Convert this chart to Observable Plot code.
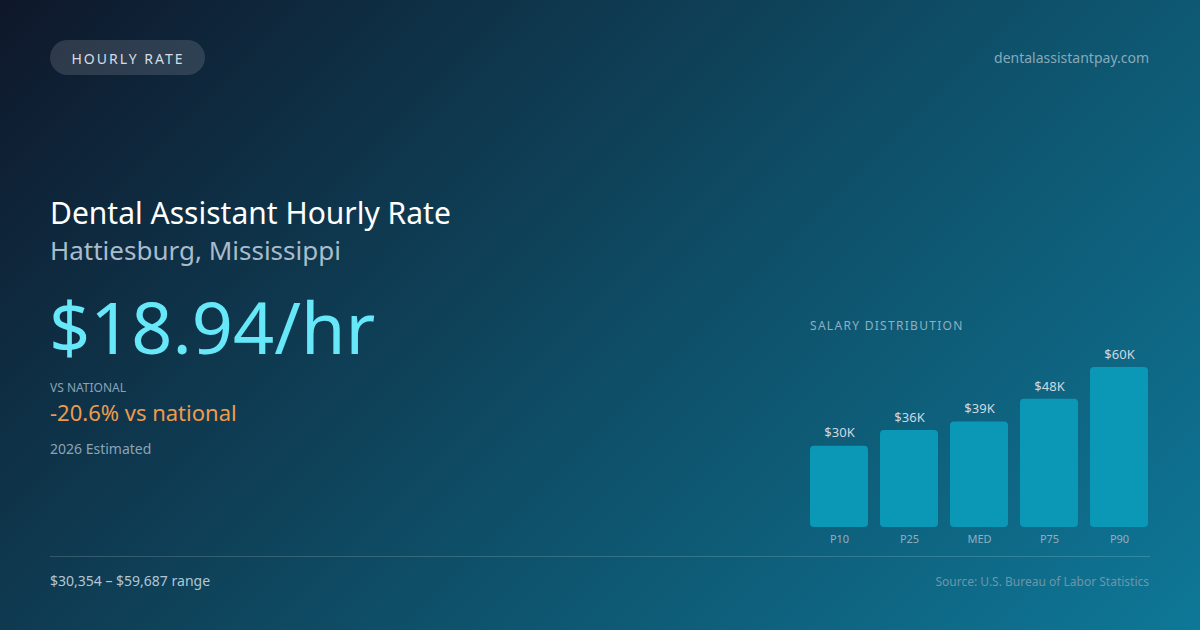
<!DOCTYPE html>
<html>
<head>
<meta charset="utf-8">
<script src="https://cdn.jsdelivr.net/npm/d3@7"></script>
<script src="https://cdn.jsdelivr.net/npm/@observablehq/plot@0.6"></script>
<style>
  html, body { margin: 0; padding: 0; }
  body {
    width: 1200px; height: 630px; overflow: hidden; position: relative;
    font-family: "Noto Sans", "Open Sans", sans-serif;
    background: linear-gradient(135deg, #0f172a 0%, #0e4a62 50%, #0e7898 100%);
  }
  .abs { position: absolute; white-space: nowrap; line-height: 1; }
  #pill {
    left: 50px; top: 40px; width: 155px; height: 35px; border-radius: 18px;
    background: rgba(255,255,255,0.13); color: #d3dde6; font-size: 14px;
    letter-spacing: 2px; display: flex; align-items: center; justify-content: center;
    padding-left: 1px; padding-top: 2px; box-sizing: border-box;
  }
  #site { right: 51px; top: 51px; font-size: 14px; color: #86aabb; }
  #title { left: 50px; top: 198px; font-size: 30px; color: #ffffff; }
  #sub { left: 50px; top: 237px; font-size: 26px; color: #a9bccb; }
  #big { left: 49px; top: 290px; font-size: 72px; color: #67e8f9; }
  #vslbl { left: 50px; top: 382px; font-size: 12px; color: #8ba3b6; }
  #vs { left: 50px; top: 401px; font-size: 22px; color: #f09a4e; }
  #est { left: 50px; top: 442px; font-size: 14px; color: #8ba3b6; }
  #rule { left: 50px; top: 556px; width: 1100px; height: 1px; background: rgba(255,255,255,0.16); }
  #range { left: 50px; top: 574px; font-size: 14px; color: #b3c6d4; }
  #src { right: 51px; top: 576px; font-size: 12px; color: #6f95aa; }
  #dist { left: 810px; top: 320px; font-size: 12px; letter-spacing: 1.3px; color: #8fb0c1; }
  #chart { left: 809px; top: 340px; }
</style>
</head>
<body>
<div id="pill" class="abs">HOURLY RATE</div>
<div id="site" class="abs">dentalassistantpay.com</div>
<div id="title" class="abs">Dental Assistant Hourly Rate</div>
<div id="sub" class="abs">Hattiesburg, Mississippi</div>
<div id="big" class="abs">$18.94/hr</div>
<div id="vslbl" class="abs">VS NATIONAL</div>
<div id="vs" class="abs">-20.6% vs national</div>
<div id="est" class="abs">2026 Estimated</div>
<div id="rule" class="abs"></div>
<div id="range" class="abs">$30,354 – $59,687 range</div>
<div id="src" class="abs">Source: U.S. Bureau of Labor Statistics</div>
<div id="dist" class="abs">SALARY DISTRIBUTION</div>
<div id="chart" class="abs"></div>
<script>
const categories = ["P10", "P25", "MED", "P75", "P90"];
const salaries = [30354, 36200, 39395, 47800, 59687];
const valueLabels = ["$30K", "$36K", "$39K", "$48K", "$60K"];

const rows = categories.map((c, i) => ({cat: c, value: salaries[i], label: valueLabels[i]}));

const chart = Plot.plot({
  width: 341,
  height: 210,
  marginTop: 27,
  marginBottom: 23,
  marginLeft: 0,
  marginRight: 0,
  style: {background: "transparent", fontFamily: "Noto Sans, sans-serif", overflow: "visible"},
  x: {domain: categories, paddingInner: 0.17, paddingOuter: 0, label: null},
  y: {domain: [0, d3.max(salaries)], axis: null},
  marks: [
    Plot.barY(rows, {x: "cat", y: "value", fill: "#0b98b6", rx: 4}),
    Plot.text(rows, {x: "cat", y: "value", text: "label", dy: -13, fill: "#cdd9e2", fontSize: 13}),
    Plot.axisX({tickSize: 0, tickPadding: 8, fill: "#8fb0c1", fontSize: 11, label: null})
  ]
});
document.getElementById("chart").appendChild(chart);
</script>
</body>
</html>
